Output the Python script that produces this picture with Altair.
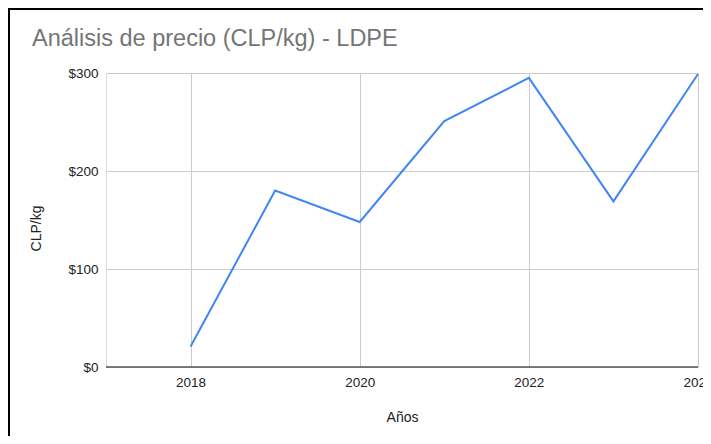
import altair as alt
import pandas as pd

years = [2018, 2019, 2020, 2021, 2022, 2023, 2024]
prices = [21, 180, 148, 251, 295, 169, 299]
x_ticks = [2018, 2020, 2022, 2024]
y_ticks = [0, 100, 200, 300]

df = pd.DataFrame({"Año": years, "Precio": prices})

FONT = "Arial, Liberation Sans, sans-serif"
W, H = 592, 294

x_enc = alt.X(
    "Año:Q",
    scale=alt.Scale(domain=[2017, 2024], nice=False, zero=False),
    axis=alt.Axis(
        title="Años", values=x_ticks, format="d", grid=True, gridColor="#cccccc",
        domain=False, ticks=False, labelPadding=8, labelFontSize=13.5, labelFlush=False,
        labelColor="#222222", labelFont=FONT, titleFont=FONT, titleFontSize=14,
        titleFontWeight="normal", titleColor="#222222", titleY=50, titleBaseline="middle",
    ),
)
y_enc = alt.Y(
    "Precio:Q",
    scale=alt.Scale(domain=[0, 300], nice=False),
    axis=alt.Axis(
        title="CLP/kg", values=y_ticks, format="$,d", grid=True, gridColor="#cccccc",
        domain=False, ticks=False, labelPadding=8, labelFontSize=13.5,
        labelColor="#222222", labelFont=FONT, titleFont=FONT, titleFontSize=14,
        titleFontWeight="normal", titleColor="#222222", titleX=-70, titleY=155,
        titleAngle=-90, titleAlign="center", titleBaseline="middle",
    ),
)

line = alt.Chart(df).mark_line(color="#4285F4", strokeWidth=2).encode(x=x_enc, y=y_enc)

zero = alt.Chart(pd.DataFrame({"z": [0]})).mark_rule(color="#555555", strokeWidth=1.5).encode(
    y=alt.Y("z:Q", scale=alt.Scale(domain=[0, 300], nice=False)),
    x=alt.value(0), x2=alt.value(W),
)

border_left = alt.Chart(pd.DataFrame({"b": [0]})).mark_rule(color="#000000", strokeWidth=2).encode(
    x=alt.value(-97), y=alt.value(-70), y2=alt.value(H + 80),
)
border_top = alt.Chart(pd.DataFrame({"b": [0]})).mark_rule(color="#000000", strokeWidth=2).encode(
    y=alt.value(-64), x=alt.value(-100), x2=alt.value(W + 20),
)

chart = alt.layer(line, zero, border_left, border_top).properties(
    width=W,
    height=H,
    autosize=alt.AutoSizeParams(type="none"),
    padding={"left": 98, "top": 65, "right": 5, "bottom": 69},
    title=alt.TitleParams(
        "Análisis de precio (CLP/kg) - LDPE", anchor="start", frame="group",
        font=FONT, fontSize=23.5, fontWeight="normal", color="#757575", dx=-74,
        offset=0, baseline="alphabetic", dy=67,
    ),
).configure_view(stroke=None).configure(background="white")

chart.save("out.html", embed_options={"renderer": "svg", "actions": False})
